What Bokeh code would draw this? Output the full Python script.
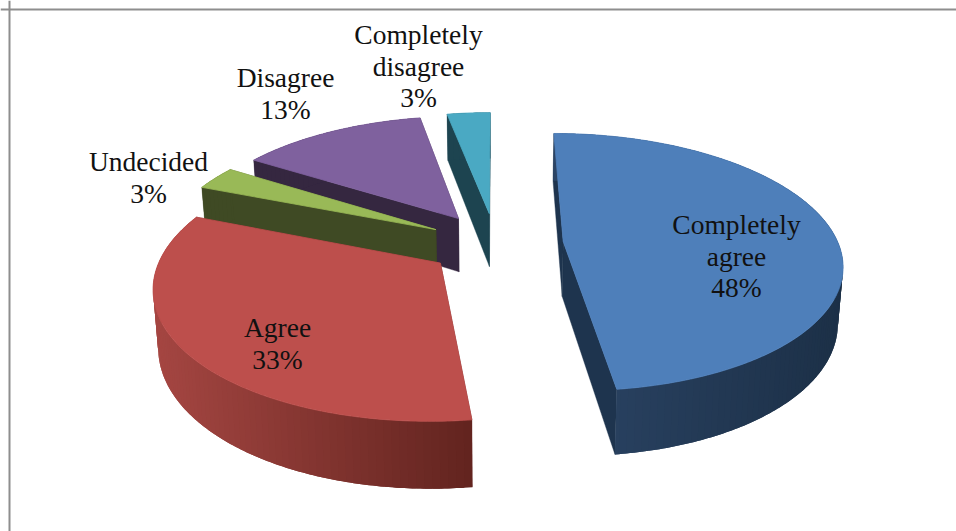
import numpy as np
from bokeh.plotting import figure
from bokeh.models import Span
from bokeh.core.properties import value
from bokeh.embed import file_html
from bokeh.resources import INLINE

# data
categories = ["Completely agree", "Agree", "Undecided", "Disagree", "Completely disagree"]
percents = [48, 33, 3, 13, 3]
label_lines = [["Completely", "agree"], ["Agree"], ["Undecided"], ["Disagree"], ["Completely", "disagree"]]

# styles
top_colors = ["#4e7fba", "#bd4f4c", "#99b957", "#7f619e", "#4aa9c3"]
cut_colors = ["#1e344e", "#5e2220", "#3f4a24", "#352740", "#1d4450"]
wall_left = ["#2b4465", "#a54642", "#3f4a24", "#352740", "#1d4450"]
wall_right = ["#1c3047", "#62241f", "#3f4a24", "#352740", "#1d4450"]
label_x = [736, 277, 148, 285, 418]
label_y = [224, 327, 161, 77, 34]

# layout of the projected pie
CX, CY = 495.0, 243.0
R = 275.0
EXPLODE = 68.0
TILT = 0.458
PERSP = 0.16
DEPTH = 55.0
BOTTOM_X = 0.985
LINE_STEP = 31.5
FONT = "Liberation Serif"
FONT_SIZE = "27.5px"


def project(X, Z, extruded=False):
    X, Z = np.asarray(X, float), np.asarray(Z, float)
    s = 1.0 / (1.0 + PERSP * Z / R)
    if extruded:
        return CX + X * s * BOTTOM_X, CY - TILT * Z * s + DEPTH * s
    return CX + X * s, CY - TILT * Z * s


def hex_mix(a, b, t):
    ca = [int(a[i:i + 2], 16) for i in (1, 3, 5)]
    cb = [int(b[i:i + 2], 16) for i in (1, 3, 5)]
    return "#%02x%02x%02x" % tuple(int(round(p + (q - p) * t)) for p, q in zip(ca, cb))


p = figure(width=956, height=531, x_range=(0, 956), y_range=(531, 0),
           output_backend="svg", toolbar_location=None, min_border=0,
           x_axis_type=None, y_axis_type=None, outline_line_color=None,
           background_fill_color="white", border_fill_color="white")
p.grid.visible = False

for loc, dim in ((9, "height"), (9, "width")):
    p.add_layout(Span(location=loc, dimension=dim, line_color="#8e8e8e", line_width=2))

fractions = np.array(percents, float) / sum(percents)
ends = np.cumsum(fractions) * 2 * np.pi
starts = ends - fractions * 2 * np.pi

# draw from the back of the pie to the front
for i in [4, 3, 2, 1, 0]:
    a0, a1 = starts[i], ends[i]
    mid = (a0 + a1) / 2
    ox, oz = EXPLODE * np.sin(mid), EXPLODE * np.cos(mid)
    n = max(int((a1 - a0) / 0.012), 4)
    th = np.linspace(a0, a1, n + 1)
    ax = ox + R * np.sin(th)
    az = oz + R * np.cos(th)

    tx, ty = project(ax, az)
    bx, by = project(ax, az, True)
    apx, apy = project(ox, oz)
    abx, aby = project(ox, oz, True)

    # cut faces
    for k in (-1, 0):
        p.patch([apx, tx[k], bx[k], abx], [apy, ty[k], by[k], aby],
                fill_color=cut_colors[i], line_color=cut_colors[i], line_width=0.4)

    # outer wall: narrow bands that overlap the next one, so no seams show
    xmin, xmax = bx.min(), bx.max()
    xs, ys, cols = [], [], []
    band = 2
    for j in range(0, n, band):
        e = min(j + 2 * band, n)
        xs.append(np.r_[tx[j:e + 1], bx[j:e + 1][::-1]])
        ys.append(np.r_[ty[j:e + 1], by[j:e + 1][::-1]])
        t = ((bx[j] + bx[min(j + band, n)]) / 2 - xmin) / max(xmax - xmin, 1)
        cols.append(hex_mix(wall_left[i], wall_right[i], t))
    p.patches(xs, ys, fill_color=cols, line_color=None)

    # top face
    p.patch(np.r_[apx, tx], np.r_[apy, ty], fill_color=top_colors[i],
            line_color=top_colors[i], line_width=0.8)

# labels
tx_, ty_, tt_ = [], [], []
for i, lines in enumerate(label_lines):
    rows = lines + [f"{percents[i]}%"]
    for r, row in enumerate(rows):
        tx_.append(label_x[i])
        ty_.append(label_y[i] + r * LINE_STEP)
        tt_.append(row)
p.text(tx_, ty_, text=tt_, text_align="center", text_baseline="alphabetic",
       text_font=value(FONT), text_font_size=value(FONT_SIZE), text_color="#111111")

open("out.html", "w").write(file_html(p, INLINE))
